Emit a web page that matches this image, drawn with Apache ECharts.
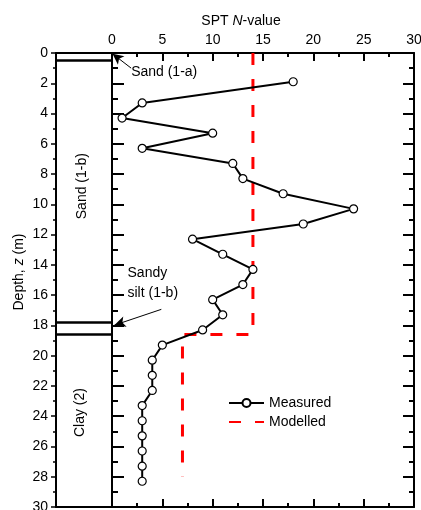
<!DOCTYPE html>
<html><head><meta charset="utf-8">
<script src="https://cdn.jsdelivr.net/npm/echarts@6/dist/echarts.min.js"></script>
<style>html,body{margin:0;padding:0;background:#fff}#c{width:421px;height:510px}</style>
</head><body><div id="c"></div>
<script>
const depth = [1.9, 3.3, 4.3, 5.3, 6.3, 7.3, 8.3, 9.3, 10.3, 11.3, 12.3, 13.3, 14.3, 15.3, 16.3, 17.3, 18.3, 19.3, 20.3, 21.3, 22.3, 23.3, 24.3, 25.3, 26.3, 27.3, 28.3];
const measuredN = [18, 3, 1, 10, 3, 12, 13, 17, 24, 19, 8, 11, 14, 13, 10, 11, 9, 5, 4, 4, 4, 3, 3, 3, 3, 3, 3];
const modelDepth = [0, 18.6, 18.6, 28];
const modelN = [14, 14, 7, 7];
const layerBoundaries = [0.5, 17.8, 18.6];
const xTicks = [0, 5, 10, 15, 20, 25, 30];
const depthTicks = [0, 2, 4, 6, 8, 10, 12, 14, 16, 18, 20, 22, 24, 26, 28, 30];

const FONT = "'Liberation Sans', Arial, sans-serif";
const chart = echarts.init(document.getElementById('c'), null, {renderer: 'canvas'});

function axLine() {
  return {show: true, onZero: false, lineStyle: {color: '#000', width: 2}};
}
function ticks(len, minorLen, inside, w) {
  return {
    axisTick: {show: true, inside: inside, length: len, lineStyle: {color: '#000', width: w}},
    minorTick: {show: true, splitNumber: 2, length: minorLen, lineStyle: {color: '#000', width: w}}
  };
}
const txt = {fontFamily: FONT, fontSize: 14, color: '#000', fontWeight: 'normal'};
const txtI = {fontFamily: FONT, fontSize: 14, color: '#000', fontWeight: 'normal', fontStyle: 'italic'};
const dMin = depthTicks[0], dMax = depthTicks[depthTicks.length - 1];
const nMin = xTicks[0], nMax = xTicks[xTicks.length - 1];
const bounds = {left: 0, top: 0, right: -30, bottom: -40};

const option = {
  animation: false,
  backgroundColor: '#fff',
  title: {
    text: '{a|SPT }{i|N}{a|-value}',
    left: 236, top: 9, textAlign: 'center',
    textStyle: {fontWeight: 'normal', rich: {a: txt, i: txtI}}
  },
  grid: [
    {left: 112, top: 53, right: 7, bottom: 3, outerBounds: bounds},
    {left: 56, top: 53, width: 56, bottom: 3, outerBounds: bounds}
  ],
  xAxis: [
    Object.assign({
      type: 'value', gridIndex: 0, position: 'top', min: nMin, max: nMax, interval: 5,
      splitLine: {show: false}, axisLine: axLine(),
      axisLabel: Object.assign({show: true, margin: 6}, txt)
    }, ticks(8, 4, true, 2)),
    Object.assign({
      type: 'value', gridIndex: 0, position: 'bottom', min: nMin, max: nMax, interval: 5,
      splitLine: {show: false}, axisLine: axLine(),
      axisLabel: {show: false}
    }, ticks(8, 4, true, 2)),
    {type: 'value', gridIndex: 1, min: 0, max: 1, position: 'top', axisLine: axLine(),
     axisTick: {show: false}, minorTick: {show: false}, axisLabel: {show: false}, splitLine: {show: false}},
    {type: 'value', gridIndex: 1, min: 0, max: 1, position: 'bottom', axisLine: axLine(),
     axisTick: {show: false}, minorTick: {show: false}, axisLabel: {show: false}, splitLine: {show: false}}
  ],
  yAxis: [
    Object.assign({
      type: 'value', gridIndex: 0, position: 'left', inverse: true, min: dMin, max: dMax, interval: 2,
      splitLine: {show: false}, axisLine: axLine(), axisLabel: {show: false}
    }, ticks(12, 6, true, 2)),
    Object.assign({
      type: 'value', gridIndex: 0, position: 'right', inverse: true, min: dMin, max: dMax, interval: 2,
      splitLine: {show: false}, axisLine: axLine(), axisLabel: {show: false}
    }, ticks(11, 5, true, 2)),
    Object.assign({
      type: 'value', gridIndex: 1, position: 'left', inverse: true, min: dMin, max: dMax, interval: 2,
      splitLine: {show: false}, axisLine: axLine(),
      axisLabel: Object.assign({show: true, margin: 8}, txt),
      name: '{a|Depth, }{i|z}{a| (m)}',
      nameLocation: 'middle', nameGap: 30, nameRotate: 90,
      nameTextStyle: {padding: [0, 0, 0, 16], rich: {a: txt, i: txtI}}
    }, ticks(5, 3, false, 1.5))
  ],
  legend: {
    orient: 'vertical', left: 223, top: 391, itemWidth: 35, itemHeight: 10, itemGap: 5,
    textStyle: txt,
    data: [
      {name: 'Measured'},
      {name: 'Modelled', itemStyle: {opacity: 0}}
    ]
  },
  series: [
    {
      name: 'Modelled', type: 'line', xAxisIndex: 0, yAxisIndex: 0,
      data: modelN.map((n, i) => [n, modelDepth[i]]),
      showSymbol: false, symbol: 'none',
      lineStyle: {color: '#ff0000', width: 3, type: [12, 14]},
      itemStyle: {color: '#ff0000'}, z: 2
    },
    {
      name: 'Measured', type: 'line', xAxisIndex: 0, yAxisIndex: 0,
      data: measuredN.map((n, i) => [n, depth[i]]),
      symbol: 'circle', symbolSize: 8,
      lineStyle: {color: '#000', width: 2},
      itemStyle: {color: '#fff', borderColor: '#000', borderWidth: 1.2}, z: 3
    },
    {
      name: 'annot', type: 'scatter', xAxisIndex: 0, yAxisIndex: 0, symbolSize: 0, silent: true,
      itemStyle: {opacity: 1},
      data: [
        {value: [1.9, 1.29], label: {show: true, formatter: 'Sand (1-a)', position: 'inside', align: 'left', verticalAlign: 'middle'}},
        {value: [1.54, 15.2], label: {show: true, formatter: 'Sandy\nsilt (1-b)', position: 'inside', align: 'left', verticalAlign: 'middle', lineHeight: 20}}
      ],
      label: Object.assign({opacity: 1, textBorderWidth: 0}, txt),
      markLine: {
        silent: true, symbol: ['none', 'arrow'], symbolSize: [8, 11],
        label: {show: false},
        lineStyle: {color: '#000', width: 1, type: 'solid', opacity: 1},
        data: [
          [{coord: [1.9, 1.0]}, {coord: [0.05, 0.05]}],
          [{coord: [4.9, 16.94]}, {coord: [0.25, 17.98]}]
        ]
      }
    },
    {
      name: 'column', type: 'scatter', xAxisIndex: 2, yAxisIndex: 2, symbolSize: 0, silent: true,
      itemStyle: {opacity: 1},
      data: [
        {value: [0.46, 8.8], label: {show: true, formatter: 'Sand (1-b)'}},
        {value: [0.43, 23.76], label: {show: true, formatter: 'Clay (2)'}}
      ],
      label: Object.assign({position: 'inside', rotate: 90, align: 'center', verticalAlign: 'middle',
              opacity: 1, textBorderWidth: 0}, txt),
      markLine: {
        silent: true, symbol: ['none', 'none'], label: {show: false},
        lineStyle: {color: '#000', width: 2.5, type: 'solid', opacity: 1},
        data: layerBoundaries.map(d => ({yAxis: d}))
      }
    }
  ]
};
chart.setOption(option);
</script>
</body></html>
